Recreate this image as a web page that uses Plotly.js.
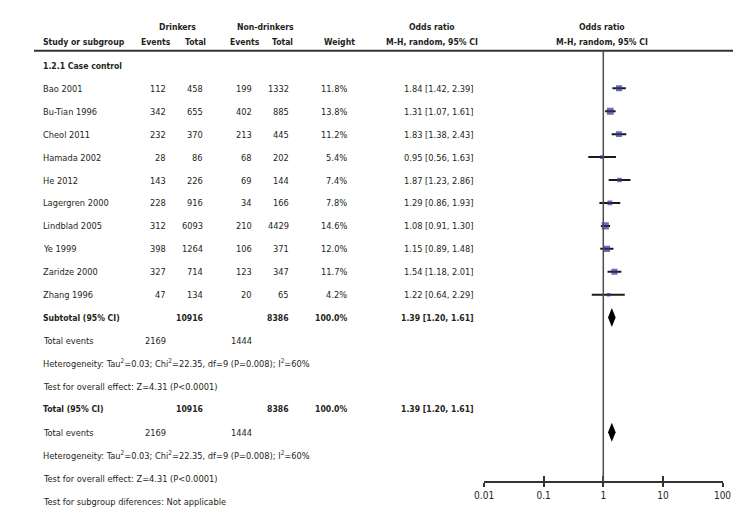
<!DOCTYPE html>
<html><head><meta charset="utf-8">
<script src="https://cdn.plot.ly/plotly-3.0.1.min.js"></script>
<style>html,body{margin:0;padding:0;background:#fff}#chart{width:756px;height:528px}</style>
</head><body><div id="chart"></div>
<script>
// ---------- data ----------
const studies = ['Bao 2001','Bu-Tian 1996','Cheol 2011','Hamada 2002','He 2012','Lagergren 2000','Lindblad 2005','Ye 1999','Zaridze 2000','Zhang 1996'];
const drinkEvents = [112,342,232,28,143,228,312,398,327,47];
const drinkTotal  = [458,655,370,86,226,916,6093,1264,714,134];
const nonEvents   = [199,402,213,68,69,34,210,106,123,20];
const nonTotal    = [1332,885,445,202,144,166,4429,371,347,65];
const weights     = [11.8,13.8,11.2,5.4,7.4,7.8,14.6,12.0,11.7,4.2];
const oddsRatio   = [1.84,1.31,1.83,0.95,1.87,1.29,1.08,1.15,1.54,1.22];
const ciLow       = [1.42,1.07,1.38,0.56,1.23,0.86,0.91,0.89,1.18,0.64];
const ciHigh      = [2.39,1.61,2.43,1.63,2.86,1.93,1.30,1.48,2.01,2.29];
const pooledOR = 1.39, pooledLow = 1.20, pooledHigh = 1.61;
const sumDrinkTotal = 10916, sumNonTotal = 8386, sumWeight = 100.0;
const sumDrinkEvents = 2169, sumNonEvents = 1444;
const heterogeneityText = 'Heterogeneity: Tau<sup>2</sup>=0.03; Chi<sup>2</sup>=22.35, df=9 (P=0.008); I<sup>2</sup>=60%';
const overallText = 'Test for overall effect: Z=4.31 (P&lt;0.0001)';
const subgroupText = 'Test for subgroup diferences: Not applicable';
const tickVals = [0.01,0.1,1,10,100];
const tickText = ['0.01','0.1','1','10','100'];

// ---------- layout geometry ----------
const W = 756, H = 528;
const FONT = '"DejaVu Sans Condensed", "Liberation Sans Narrow", "Arial Narrow", sans-serif';
const TXT = '#231f20';
const row0Px = 88.3, rowStep = 22.93;
const axisPx = 481.7, rulePx = 50.7;
const xLeftPx = 484.1, xRightPx = 722.5;
const px2row = p => (p - row0Px) / rowStep;
const col = {study:43.3, dEv:165.7, dTot:202.7, nEv:251.7, nTot:288.7, wt:346.7, or:474};
const FS = 9.2, FSB = 8.6;

const ann = [];
function txt(x, row, s, anchor, bold){
  ann.push({xref:'paper', yref:'y', x:x/W, y:row, text: bold ? '<b>'+s+'</b>' : s,
    xanchor:anchor, yanchor:'middle', showarrow:false, borderpad:0, borderwidth:0,
    font:{family:FONT, size: bold ? FSB : FS, color:TXT}});
}
const fmt = v => v.toFixed(2);
const orText = (o,l,h) => fmt(o)+' ['+fmt(l)+', '+fmt(h)+']';

// headers
const hr1 = px2row(26.7), hr2 = px2row(41.7);
txt(177.5, hr1, 'Drinkers', 'center', true);
txt(265.8, hr1, 'Non-drinkers', 'center', true);
txt(431.5, hr1, 'Odds ratio', 'center', true);
txt(602, hr1, 'Odds ratio', 'center', true);
txt(col.study, hr2, 'Study or subgroup', 'left', true);
txt(155.8, hr2, 'Events', 'center', true);
txt(195.5, hr2, 'Total', 'center', true);
txt(245.5, hr2, 'Events', 'center', true);
txt(282.5, hr2, 'Total', 'center', true);
txt(339, hr2, 'Weight', 'center', true);
txt(431.5, hr2, 'M-H, random, 95% CI', 'center', true);
txt(602, hr2, 'M-H, random, 95% CI', 'center', true);
txt(col.study, px2row(65.5), '1.2.1 Case control', 'left', true);

// study rows
studies.forEach((s,i) => {
  txt(col.study, i, s, 'left');
  txt(col.dEv, i, String(drinkEvents[i]), 'right');
  txt(col.dTot, i, String(drinkTotal[i]), 'right');
  txt(col.nEv, i, String(nonEvents[i]), 'right');
  txt(col.nTot, i, String(nonTotal[i]), 'right');
  txt(col.wt, i, weights[i].toFixed(1)+'%', 'right');
  txt(col.or, i, orText(oddsRatio[i], ciLow[i], ciHigh[i]), 'right');
});

// summary blocks
function summary(r, label){
  txt(col.study, r, label, 'left', true);
  txt(col.dTot, r, String(sumDrinkTotal), 'right', true);
  txt(col.nTot, r, String(sumNonTotal), 'right', true);
  txt(col.wt, r, sumWeight.toFixed(1)+'%', 'right', true);
  txt(col.or, r, orText(pooledOR, pooledLow, pooledHigh), 'right', true);
  txt(col.study, r+1, 'Total events', 'left');
  txt(col.dEv, r+1, String(sumDrinkEvents), 'right');
  txt(col.nEv, r+1, String(sumNonEvents), 'right');
  txt(col.study, r+2, heterogeneityText, 'left');
  txt(col.study, r+3, overallText, 'left');
}
const n = studies.length;
summary(n, 'Subtotal (95% CI)');
summary(n+4, 'Total (95% CI)');
txt(col.study, n+8, subgroupText, 'left');

// ---------- traces ----------
const rows = studies.map((_,i) => i);
const ciX = [], ciY = [];
rows.forEach(i => { ciX.push(ciLow[i], ciHigh[i], null); ciY.push(i, i, null); });
const traces = [
  {type:'scatter', mode:'lines', x:ciX, y:ciY, line:{color:'#1a1a1a', width:2}, hoverinfo:'skip'},
  {type:'scatter', mode:'markers', x:oddsRatio, y:rows,
   marker:{symbol:'square', size:weights.map(w => 2 + w*0.35), color:'#2e3192', line:{width:0}}, hoverinfo:'skip'}
];
const dh = 9.5 / rowStep;
[n, n+5].forEach(r => {
  traces.push({type:'scatter', mode:'lines', fill:'toself', fillcolor:'#000',
    x:[pooledLow, pooledOR, pooledHigh, pooledOR, pooledLow],
    y:[r, r-dh, r, r+dh, r], line:{width:0, color:'#000'}, hoverinfo:'skip'});
});
// invisible trace for overlay axis carrying upward ticks
traces.push({type:'scatter', mode:'markers', x:[1], y:[0], xaxis:'x2', yaxis:'y', marker:{opacity:0}, hoverinfo:'skip'});

const axPos = (H - axisPx) / H;
const xdom = [xLeftPx/W, xRightPx/W];
const layout = {
  width:W, height:H, margin:{l:0,r:0,t:0,b:0,pad:0},
  paper_bgcolor:'#fff', plot_bgcolor:'rgba(0,0,0,0)', showlegend:false,
  font:{family:FONT, size:FS, color:TXT},
  xaxis:{type:'log', range:[-2,2], domain:xdom, anchor:'free', position:axPos,
    showline:true, linewidth:2, linecolor:'#333', ticks:'outside', ticklen:4, tickwidth:2, tickcolor:'#333',
    tickvals:tickVals, ticktext:tickText, tickfont:{family:FONT, size:10, color:TXT},
    showgrid:false, zeroline:false, fixedrange:true},
  xaxis2:{type:'log', range:[-2,2], domain:xdom, anchor:'free', position:axPos, overlaying:'x',
    showline:false, ticks:'inside', ticklen:6, tickwidth:2, tickcolor:'#333',
    tickvals:tickVals, showticklabels:false, showgrid:false, zeroline:false, fixedrange:true},
  yaxis:{range:[px2row(H), px2row(0)], domain:[0,1], visible:false, fixedrange:true},
  shapes:[
    {type:'line', xref:'paper', yref:'y', x0:34/W, x1:733/W, y0:px2row(rulePx), y1:px2row(rulePx), line:{color:'#333', width:2}},
    {type:'line', xref:'x', yref:'y', x0:1, x1:1, y0:px2row(rulePx), y1:px2row(axisPx), line:{color:'#4d4d4d', width:1.5}}
  ],
  annotations:ann
};
Plotly.newPlot('chart', traces, layout, {staticPlot:true, displayModeBar:false});
</script></body></html>
